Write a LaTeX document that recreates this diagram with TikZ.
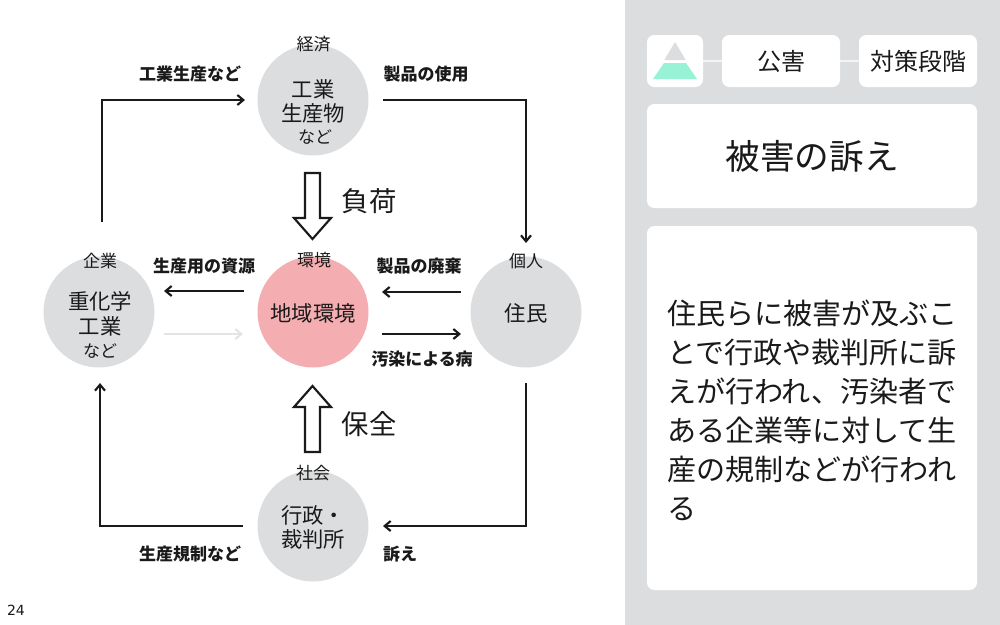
\documentclass[tikz,border=0pt]{standalone}
\usepackage{fontspec}
\setmainfont{Noto Sans CJK JP}
\newfontfamily\numfont{DejaVu Sans}
\usetikzlibrary{arrows.meta}
\definecolor{ink}{HTML}{1A1A1A}
\definecolor{panel}{HTML}{DCDDDF}
\definecolor{rosefill}{HTML}{F4ADB1}
\definecolor{mint}{HTML}{98F3D6}
\definecolor{faint}{HTML}{E3E4E6}
\definecolor{tiecol}{HTML}{F4F4F5}
\newcommand{\fs}[1]{\fontsize{#1}{#1}\selectfont}
\tikzset{
  x=0.75pt,y=-0.75pt,
  every node/.style={text=ink,inner sep=0pt,outer sep=0pt},
  disc/.style={circle,minimum size=83.25pt,fill=panel},
  hot/.style={disc,fill=rosefill},
  head/.style={font=\fs{12.75}},
  main/.style={font=\fs{16},align=center},
  tag/.style={font=\fs{12.75}\bfseries},
  big/.style={font=\fs{20.5}},
  card/.style={fill=white,rounded corners=5.5pt},
  link/.style={draw=ink,line width=1.6pt,-{Straight Barb[length=4.5pt,width=7.5pt,line width=1.6pt]}},
  faintlink/.style={link,draw=faint,-{Straight Barb[length=4.5pt,width=7.5pt,line width=1.6pt,color=faint]}},
  block/.style={draw=ink,line width=1.6pt,fill=white,line join=miter},
  tie/.style={draw=tiecol,line width=1.5pt},
}
\begin{document}
\begin{tikzpicture}
\useasboundingbox (0,0) rectangle (1000,625);
\fill[white] (0,0) rectangle (625,625);
\fill[panel] (625,0) rectangle (1000,625);

% right panel
\node[card,minimum width=42pt,minimum height=39pt] (icon) at (675,61) {};
\node[card,minimum width=88.5pt,minimum height=39pt,font=\fs{18}] (kogai) at (781,61) {公害};
\node[card,minimum width=88.5pt,minimum height=39pt,font=\fs{18}] (taisaku) at (918,61) {対策段階};
\draw[tie] (icon) -- (kogai);
\draw[tie] (kogai) -- (taisaku);
\fill[panel] (675,42) -- (685.7,60) -- (664.3,60) -- cycle;
\fill[mint] (664,63) -- (686,63) -- (697,79) -- (653,79) -- cycle;
\node[card,minimum width=247.5pt,minimum height=78pt,font=\fs{26}] (title) at (812,156) {被害の訴え};
\node[card,minimum width=247.5pt,minimum height=273pt] (bodycard) at (812,408) {};
\node[anchor=west,align=left,font=\fontsize{21.8}{29.25}\selectfont] (body) at (667,410)
 {住民らに被害が及ぶこ\\とで行政や裁判所に訴\\えが行われ、汚染者で\\ある企業等に対して生\\産の規制などが行われ\\る};

% circles
\node[disc] (top) at (313,100) {};
\node[disc] (left) at (99,312) {};
\node[hot] (mid) at (313,312) {};
\node[disc] (right) at (526,312) {};
\node[disc] (bot) at (313,526) {};

% circle texts
\node[head] (h1) at (313.5,44) {経済};
\node[head] (h2) at (100,261) {企業};
\node[head] (h3) at (314,260) {環境};
\node[head] (h4) at (526,261) {個人};
\node[head] (h5) at (313,473.5) {社会};

\node[main] (t1a) at (313,89) {工業};
\node[main] (t1b) at (313,113) {生産物};
\node[head] (t1c) at (315,137) {など};
\node[main] (t2a) at (100,301) {重化学};
\node[main] (t2b) at (100,326) {工業};
\node[head] (t2c) at (100,351) {など};
\node[main] (t3) at (313,313) {地域環境};
\node[main] (t4) at (526,313) {住民};
\node[main] (t5a) at (313,515) {行政・};
\node[main] (t5b) at (313,539) {裁判所};

% edge labels
\node[tag] (l1) at (190,74) {工業生産など};
\node[tag] (l2) at (426,74) {製品の使用};
\node[tag] (l3) at (204,266) {生産用の資源};
\node[tag] (l4) at (419,266) {製品の廃棄};
\node[tag] (l5) at (422,359) {汚染による病};
\node[tag] (l6) at (190,554.5) {生産規制など};
\node[tag] (l7) at (400,554.5) {訴え};

% connector ends
\coordinate (a1) at (102,222); \coordinate (a2) at (245,100);
\coordinate (b1) at (383,100); \coordinate (b2) at (526,243);
\coordinate (c1) at (526,383); \coordinate (c2) at (383,526);
\coordinate (d1) at (243,526); \coordinate (d2) at (100,383);
\coordinate (e1) at (244,291); \coordinate (e2) at (164,291);
\coordinate (f1) at (164,334); \coordinate (f2) at (243,334);
\coordinate (g1) at (461,292); \coordinate (g2) at (382,292);
\coordinate (k1) at (382,334); \coordinate (k2) at (461,334);

\draw[link] (a1) |- (a2);
\draw[link] (b1) -| (b2);
\draw[link] (c1) |- (c2);
\draw[link] (d1) -| (d2);
\draw[link] (e1) -- (e2);
\draw[faintlink] (f1) -- (f2);
\draw[link] (g1) -- (g2);
\draw[link] (k1) -- (k2);

% block arrows
\draw[block] (305,173) -- (320,173) -- (320,218) -- (331,218) -- (312.5,239) -- (294,218) -- (305,218) -- cycle;
\draw[block] (305,452) -- (320,452) -- (320,407) -- (331,407) -- (312.5,386) -- (294,407) -- (305,407) -- cycle;
\node[big] (load) at (369,201) {負荷};
\node[big] (keep) at (369,424) {保全};

\node[font=\numfont\fs{10.5}] (pg) at (16,610) {24};
\end{tikzpicture}
\end{document}
